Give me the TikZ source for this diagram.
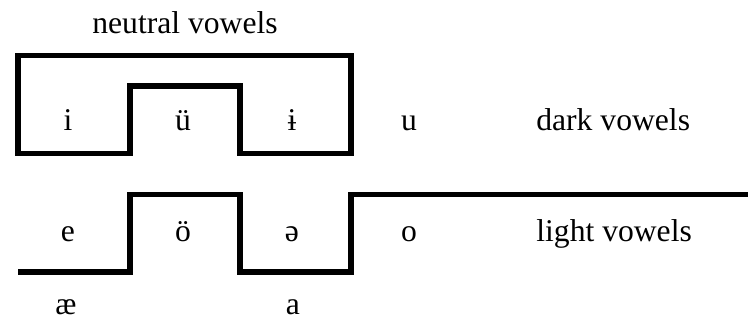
\documentclass[tikz,border=0pt]{standalone}
\usepackage{fontspec}
\setmainfont{Liberation Serif}
\usetikzlibrary{positioning}

\begin{document}
\begin{tikzpicture}[x=0.02cm,y=-0.02cm,font=\fontsize{18}{20}\selectfont,
  v/.style={anchor=base,inner sep=0pt},
  lbl/.style={anchor=base west,inner sep=0pt},
  wall/.style={line width=3.1pt,line join=miter}]
  \useasboundingbox (0,0) rectangle (748,321);
  % neutral box and light line
  \draw[wall] (18,55.5) -- (351,55.5) -- (351,153.5) -- (240,153.5) -- (240,86)
    -- (130,86) -- (130,153.5) -- (18,153.5) -- cycle;
  \draw[wall] (18,272) -- (130,272) -- (130,194.5) -- (240,194.5) -- (240,272)
    -- (351,272) -- (351,194.5) -- (748,194.5);
  \node[v](neu) at (185,33){neutral vowels};
  % dark row
  \node[v](i) at (68,130){i};
  \node[v](ue) at (183,130){ü};
  \node[v](ib) at (292,130){ɨ};
  \node[v](u) at (409,130){u};
  \node[lbl](dark) at (536,130){dark vowels};
  % light row
  \node[v](e) at (68,241){e};
  \node[v](oe) at (183,241){ö};
  \node[v](schwa) at (292,241){ə};
  \node[v](o) at (409,241){o};
  \node[lbl](light) at (536,241){light vowels};
  % below
  \node[v](ae) at (66,314){æ};
  \node[v](a) at (293,314){a};
\end{tikzpicture}
\end{document}
